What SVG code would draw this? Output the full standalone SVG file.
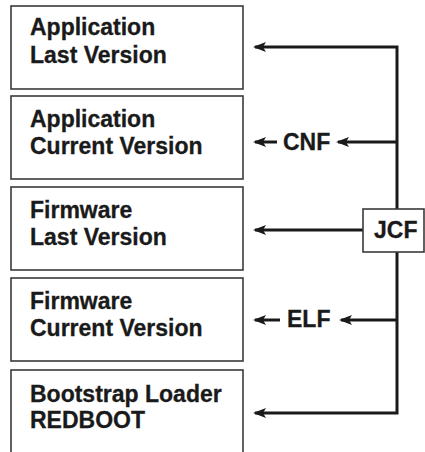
<svg xmlns="http://www.w3.org/2000/svg" width="425" height="452" viewBox="0 0 425 452">
<defs>
<style>
.box{fill:#fff;stroke:#3a3a3a;stroke-width:1.6}
.t{font-family:"Liberation Sans",Arial,sans-serif;font-weight:bold;font-size:23px;fill:#1a1a1a;stroke:#1a1a1a;stroke-width:0.3}
.lbl{font-family:"Liberation Sans",Arial,sans-serif;font-weight:bold;font-size:23px;fill:#1a1a1a;stroke:#1a1a1a;stroke-width:0.3}
.c{fill:none;stroke:#1a1a1a;stroke-width:3}
</style>
<marker id="ah" viewBox="0 0 13 10" refX="11" refY="5" markerWidth="13" markerHeight="10" markerUnits="userSpaceOnUse" orient="auto">
<path d="M13,5 L0,0 L3,5 L0,10 Z" fill="#1a1a1a"/>
</marker>
</defs>
<rect width="425" height="452" fill="#fff"/>
<g id="app-last"><rect class="box" x="11" y="6" width="232" height="83"/><text class="t" x="30" y="35">Application</text><text class="t" x="30" y="63">Last Version</text></g>
<g id="app-current"><rect class="box" x="11" y="96" width="232" height="83"/><text class="t" x="30" y="127">Application</text><text class="t" x="30" y="154">Current Version</text></g>
<g id="fw-last"><rect class="box" x="11" y="187" width="232" height="83"/><text class="t" x="30" y="218">Firmware</text><text class="t" x="30" y="245">Last Version</text></g>
<g id="fw-current"><rect class="box" x="11" y="278" width="232" height="83"/><text class="t" x="30" y="309">Firmware</text><text class="t" x="30" y="336">Current Version</text></g>
<g id="bootloader"><rect class="box" x="11" y="370" width="232" height="90"/><text class="t" x="30" y="402">Bootstrap Loader</text><text class="t" x="30" y="428">REDBOOT</text></g>
<g id="connectors">
<path class="c" d="M397,213 V47 H255" marker-end="url(#ah)"/>
<path class="c" d="M397,250 V413 H255" marker-end="url(#ah)"/>
<path class="c" d="M363,230 H255" marker-end="url(#ah)"/>
<path class="c" d="M397,142 H338" marker-end="url(#ah)"/>
<path class="c" d="M277,142 H255" marker-end="url(#ah)"/>
<path class="c" d="M397,320 H341" marker-end="url(#ah)"/>
<path class="c" d="M280,320 H255" marker-end="url(#ah)"/>
</g>
<g id="cnf"><text class="lbl" x="283" y="150">CNF</text></g>
<g id="elf"><text class="lbl" x="287" y="327">ELF</text></g>
<g id="jcf"><rect class="box" x="363" y="209" width="61" height="43"/><text class="lbl" x="374" y="238">JCF</text></g>
</svg>
